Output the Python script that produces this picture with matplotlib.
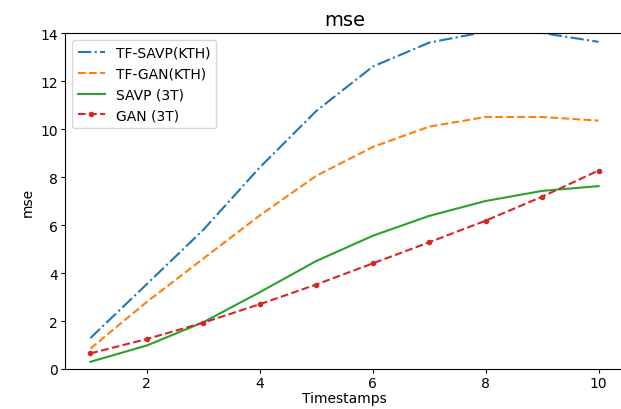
import matplotlib.pyplot as plt

steps = [1, 2, 3, 4, 5, 6, 7, 8, 9, 10]
tf_savp_kth = [1.29, 3.54, 5.8, 8.4, 10.75, 12.6, 13.6, 14.05, 14.0, 13.63]
tf_gan_kth = [0.85, 2.8, 4.6, 6.4, 8.05, 9.25, 10.1, 10.5, 10.5, 10.35]
savp_3t = [0.3, 0.98, 1.95, 3.2, 4.5, 5.55, 6.38, 7.0, 7.42, 7.62]
gan_3t = [0.65, 1.25, 1.93, 2.7, 3.52, 4.4, 5.28, 6.18, 7.18, 8.27]

fig, ax = plt.subplots(figsize=(6.21, 4.10), dpi=100)
fig.subplots_adjust(left=65/621, right=624/621, top=1-34/410, bottom=1-370/410)

ax.plot(steps, tf_savp_kth, '-.', color='tab:blue', label='TF-SAVP(KTH)')
ax.plot(steps, tf_gan_kth, '--', color='tab:orange', label='TF-GAN(KTH)')
ax.plot(steps, savp_3t, '-', color='tab:green', label='SAVP (3T)')
ax.plot(steps, gan_3t, '--', color='tab:red', marker='.', markersize=6, label='GAN (3T)')

ax.set_ylim(0, 14)
ax.set_xticks([2, 4, 6, 8, 10])
ax.tick_params(length=3, pad=2)
ax.set_title('mse', fontsize=14)
ax.set_xlabel('Timestamps', labelpad=1)
ax.set_ylabel('mse')
ax.legend(loc='upper left')

plt.savefig('out.png')
